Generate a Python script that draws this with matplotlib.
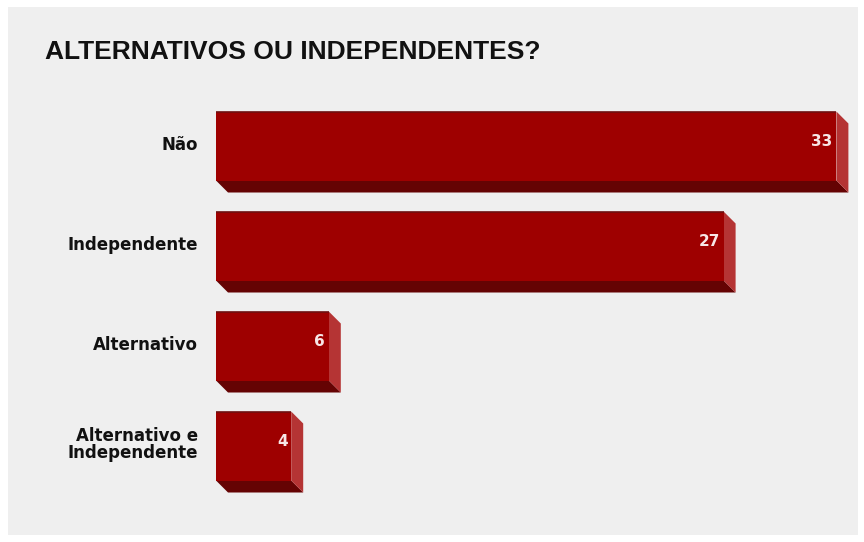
import matplotlib
matplotlib.use("Agg")
import matplotlib.pyplot as plt
from matplotlib.patches import Polygon, Rectangle
from matplotlib.transforms import ScaledTranslation
from matplotlib import font_manager

categories = ["Não", "Independente", "Alternativo", "Alternativo e\nIndependente"]
values = [33, 27, 6, 4]
title = "ALTERNATIVOS OU INDEPENDENTES?"

names = {f.name for f in font_manager.fontManager.ttflist}
narrow = "Liberation Sans Narrow" if "Liberation Sans Narrow" in names else "Liberation Sans"
label_font = ["DejaVu Sans"]

W, H = 864, 542
fig = plt.figure(figsize=(W / 100, H / 100), dpi=100, facecolor="white")

# light grey panel behind everything
fig.patches.append(Rectangle((8 / W, 7 / H), 850 / W, 528 / H, transform=fig.transFigure,
                             facecolor="#efefef", edgecolor="none", zorder=-5))

fig.text(45 / W, 1 - 52 / H, title, fontsize=19, fontweight="bold", family=[narrow, "DejaVu Sans"],
         color="#111111", va="center", ha="left")

# axes: x from 216px to 856px, rows centred every 100px
ax = fig.add_axes([216 / W, 46 / H, 640 / W, 400 / H])
ax.set_zorder(2)
ax.set_facecolor("none")
px_per_unit = 18.8
ax.set_xlim(0, 640 / px_per_unit)
ax.set_ylim(3.5, -0.5)
for s in ax.spines.values():
    s.set_visible(False)
ax.set_xticks([])

bar_h = 0.69
dx = 12 / px_per_unit
dy = 0.12
front = "#9e0000"
bottom_c = "#650303"
side_c = "#b53434"

ypos = list(range(len(categories)))
ax.barh(ypos, values, height=bar_h, color=front, edgecolor="none", zorder=3)
for y, v in zip(ypos, values):
    top = y - bar_h / 2
    bot = y + bar_h / 2
    ax.add_patch(Polygon([(0, bot), (v, bot), (v + dx, bot + dy), (dx, bot + dy)],
                         closed=True, facecolor=bottom_c, edgecolor="none", zorder=2))
    ax.add_patch(Polygon([(v, top), (v + dx, top + dy), (v + dx, bot + dy), (v, bot)],
                         closed=True, facecolor=side_c, edgecolor="none", zorder=2))
    ax.plot([0, v], [top, top], color="#6e1010", lw=1.2, zorder=4, solid_capstyle="butt")
    ax.text(v - 0.2, y - 0.04, str(v), ha="right", va="center", color="#f7e6e6",
            fontsize=11, fontweight="bold", family=label_font, zorder=5)

ax.set_yticks(ypos)
ax.set_yticklabels(categories, fontsize=12, fontweight="bold", family=label_font,
                   color="#111111", linespacing=0.95)
ax.tick_params(axis="y", length=0, pad=13)
lift = ScaledTranslation(0, 3 / 100, fig.dpi_scale_trans)
for lab in ax.get_yticklabels():
    lab.set_transform(lab.get_transform() + lift)

fig.savefig("out.png", dpi=100, facecolor="white")
